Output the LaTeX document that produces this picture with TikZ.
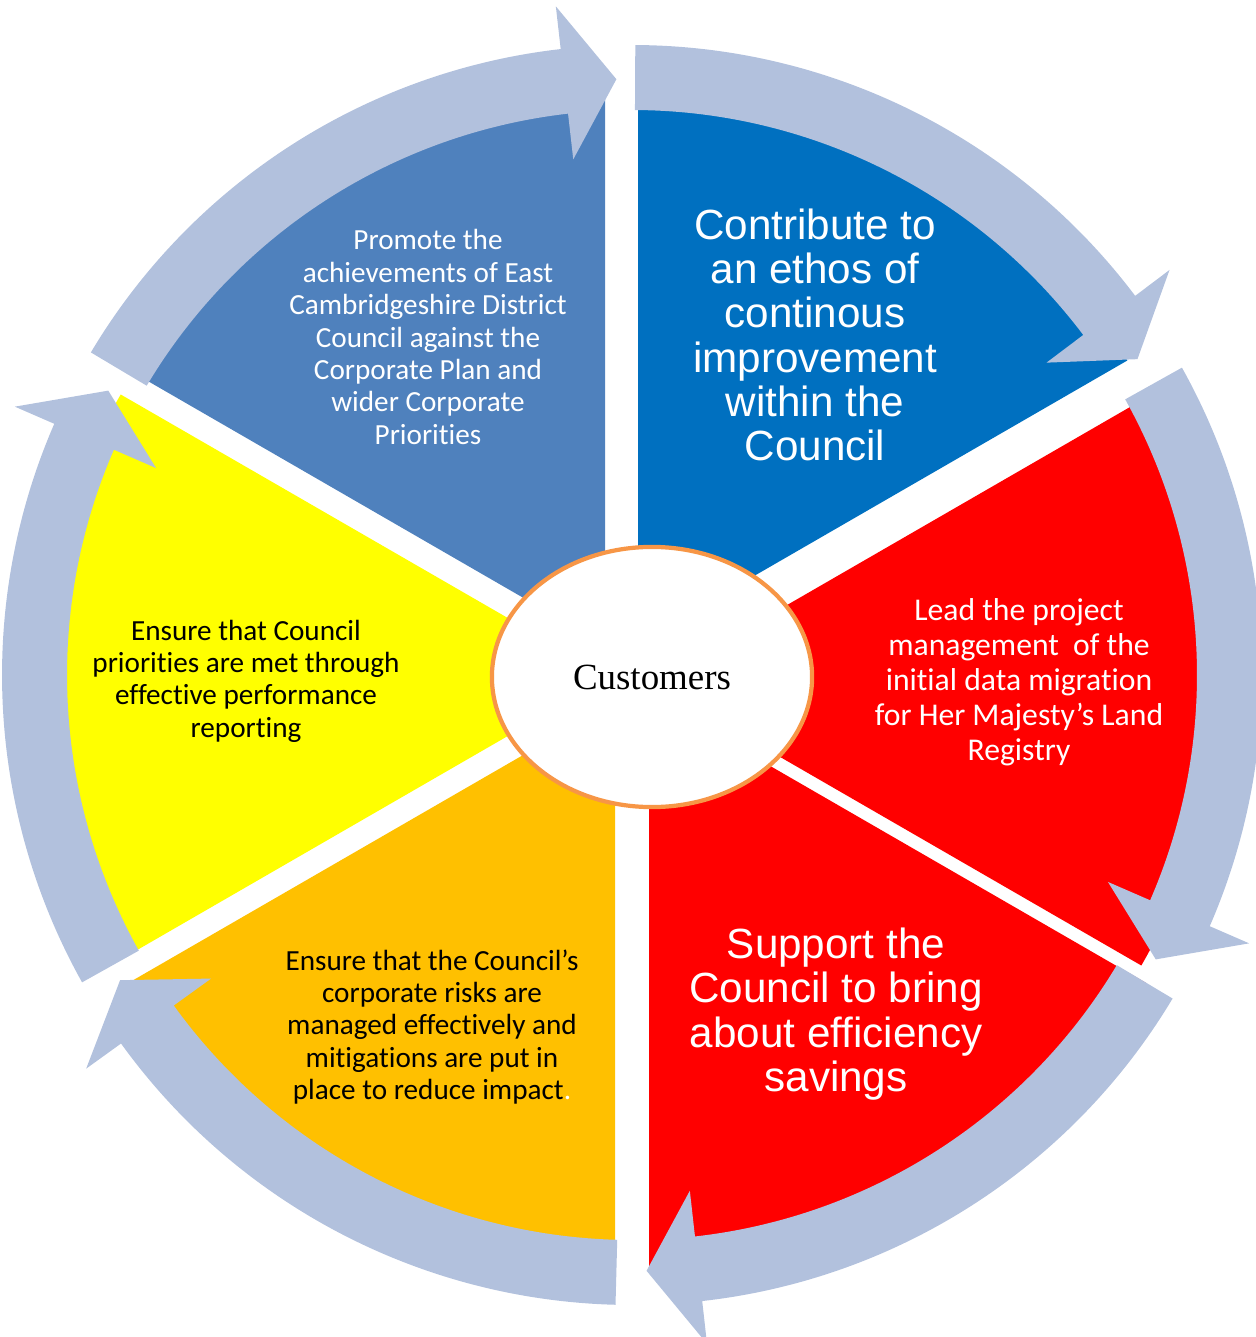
\documentclass[tikz,border=0pt]{standalone}
\usepackage{fontspec}
\setmainfont{Liberation Sans}
\newfontfamily\calibrifont[Ligatures=NoCommon]{Carlito}
\newfontfamily\arialfont{Liberation Sans}
\newfontfamily\timesfont{Liberation Serif}
\usetikzlibrary{calc, shapes.geometric}
\definecolor{ringblue}{HTML}{B2C1DD}
\definecolor{steelblue}{HTML}{4F81BD}
\definecolor{oceanblue}{HTML}{0070C0}
\definecolor{amber}{HTML}{FFC000}
\definecolor{lemon}{HTML}{FFFF00}
\definecolor{rimorange}{HTML}{F79646}

\begin{document}
\begin{tikzpicture}[x=0.01cm, y=0.01cm,
    smalltext/.style={align=center, inner sep=0pt, font=\calibrifont\fontsize{8.3}{9.2}\selectfont},
    bigtext/.style={align=center, inner sep=0pt, text=white, font=\arialfont\fontsize{12}{12.6}\selectfont}]
  \useasboundingbox (0,0) rectangle (1255,-1337);
  \coordinate (hub) at (632,-675);

  % Six segments, each pulled a little away from the hub
  \coordinate (tl) at (605,-645);
  \coordinate (tr) at (638,-643);
  \coordinate (rr) at (652,-683);
  \coordinate (br) at (649,-696);
  \coordinate (bl) at (615,-702);
  \coordinate (ll) at (610,-677);
  \fill[steelblue] (tl) -- ++(90:565) arc[start angle=90, end angle=150, radius=565] -- cycle;
  \fill[oceanblue] (tr) -- ++(30:565) arc[start angle=30, end angle=90, radius=565] -- cycle;
  \fill[red] (rr) -- ++(-30:565) arc[start angle=-30, end angle=30, radius=565] -- cycle;
  \fill[red] (br) -- ++(-90:575) arc[start angle=-90, end angle=-30, radius=575] -- cycle;
  \fill[amber] (bl) -- ++(210:565) arc[start angle=210, end angle=270, radius=565] -- cycle;
  \fill[lemon] (ll) -- ++(150:565) arc[start angle=150, end angle=210, radius=565] -- cycle;

  % Ring of curved arrows going clockwise
  \foreach \a in {149.2, 89.7, 29.2, -30.9, -91.5, -150.8} {
    \pgfmathsetmacro{\headbase}{\a-52.7}
    \pgfmathsetmacro{\headtip}{\a-57.7}
    \fill[ringblue] ($(hub)+(\a:565)$) arc[start angle=\a, end angle=\headbase, radius=565]
      -- ($(hub)+(\headbase:519)$) -- ($(hub)+(\headtip:596)$) -- ($(hub)+(\headbase:673)$)
      -- ($(hub)+(\headbase:630)$) arc[start angle=\headbase, end angle=\a, radius=630] -- cycle;
  }

  % Segment texts
  \node[smalltext, text=white] (promote) at (428,-337) {Promote the\\achievements of East\\Cambridgeshire District\\Council against the\\Corporate Plan and\\wider Corporate\\Priorities};
  \node[bigtext] (ethos) at (815,-335) {Contribute to\\an ethos of\\continous\\improvement\\within the\\Council};
  \node[smalltext, text=white, font=\calibrifont\fontsize{9}{9.96}\selectfont] (landreg) at (1019,-682) {Lead the project\\management~ of the\\initial data migration\\for Her Majesty’s Land\\Registry};
  \node[bigtext] (savings) at (836,-1014) {Support the\\Council to bring\\about efficiency\\savings};
  \node[smalltext] (risks) at (432,-1027) {Ensure that the Council’s\\corporate risks are\\managed effectively and\\mitigations are put in\\place to reduce impact{\color{white}.}};
  \node[smalltext] (reporting) at (246,-681) {Ensure that Council\\priorities are met through\\effective performance\\reporting};

  % Centre
  \node[ellipse, draw=rimorange, line width=1.2pt, fill=white, minimum width=3.2cm, minimum height=2.6cm,
        inner sep=0pt, font=\timesfont\fontsize{10.5}{12}\selectfont] (customers) at (652,-677) {Customers};
\end{tikzpicture}
\end{document}
